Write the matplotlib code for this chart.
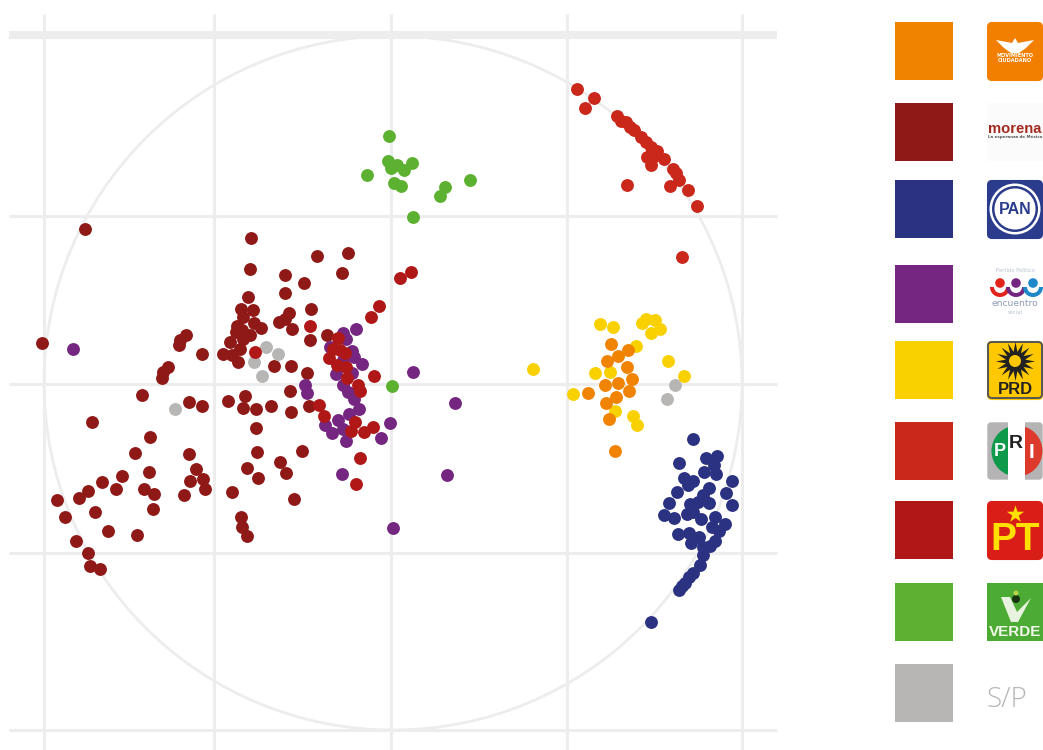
import matplotlib
matplotlib.use("Agg")
import matplotlib.pyplot as plt
from matplotlib.patches import Circle, Ellipse, FancyBboxPatch, Rectangle, Wedge

# valores, radio del circulo = 348
mc_x = [219, 236, 226, 215, 235, 240, 226, 213, 237, 224, 214, 217, 196, 223]
mc_y = [40, 34, 28, 23, 17, 5, 1, -1, -7, -13, -19, -35, -9, -67]

prd_x = [141, 208, 221, 250, 254, 263, 268, 259, 244, 276, 292, 203, 218, 181, 223, 241, 245]
prd_y = [15, 60, 57, 61, 65, 64, 55, 51, 38, 23, 8, 11, 12, -10, -27, -32, -41]

sp_x = [283, 275, -126, -114, -138, -130, -217]
sp_y = [-1, -15, 37, 30, 22, 8, -25]

verde_x = [-3, -4, -1, 5, 12, 20, -25, 2, 9, 53, 48, 78, 21, 0]
verde_y = [248, 223, 216, 219, 214, 221, 209, 201, 198, 197, 188, 204, 167, -2]

pri_x = [185, 202, 193, 225, 229, 234, 238, 242, 249, 254, 259, 265, 255, 261, 259, 272,
         281, 284, 287, 278, 296, 305, 235, 290]
pri_y = [295, 286, 276, 268, 263, 262, 257, 254, 247, 242, 237, 233, 227, 227, 219, 225,
         215, 211, 204, 198, 194, 178, 199, 127]

pt_x = [8, 19, -13, -21, -82, -137, -54, -59, -63, -55, -47, -46, -45, -34, -32, -18,
        -73, -68, -37, -41, -28, -19, -32, -36, -52]
pt_y = [106, 112, 78, 67, 58, 32, 46, 35, 26, 19, 31, 17, 6, -1, -7, 8,
        -21, -32, -38, -47, -48, -43, -74, -100, 34]

pes_x = [-49, -46, -36, -62, -40, -38, -30, -49, -56, -40, -49, -44, -38, -33, -43,
         -87, -85, -54, -67, -60, -49, -46, -11, -2, 21, -319, 63, 55, -50, 1]
pes_y = [51, 45, 55, 37, 33, 27, 20, 24, 10, 11, -1, -8, -15, -25, -30,
         -1, -9, -36, -41, -49, -45, -57, -54, -39, 12, 35, -19, -91, -90, -144]

morena_x = [-144, -151, -139, -149, -138, -155, -131, -156, -142, -150, -162, -152, -169,
            -160, -154, -190, -149, -107, -88, -103, -113, -107, -100, -81, -82, -65,
            -118, -101, -85, -102, -147, -164, -149, -136, -121, -190, -101, -83, -136,
            -135, -90, -112, -307, -141, -75, -44, -142, -107, -50, -350, -206, -212,
            -213, -224, -229, -230, -250, -203, -300, -242, -257, -203, -196, -202, -189,
            -187, -243, -270, -290, -304, -276, -313, -335, -327, -297, -284, -255, -316,
            -304, -302, -292, -248, -238, -239, -208, -160, -151, -150, -145, -145, -134,
            -106, -98]
morena_y = [87, 75, 74, 67, 61, 58, 56, 52, 49, 54, 42, 35, 30,
            29, 22, 30, 45, 91, 101, 71, 62, 65, 55, 75, 44, 49,
            18, 18, 11, -7, -12, -17, -24, -25, -22, -22, -28, -22, -44,
            -68, -67, -78, 155, 146, 128, 131, 115, 109, 111, 41, 49, 44,
            39, 17, 12, 6, -11, -18, -38, -53, -69, -70, -85, -97, -95,
            -105, -88, -92, -98, -107, -105, -114, -116, -133, -128, -147, -151, -157,
            -169, -182, -185, -105, -110, -125, -111, -108, -133, -143, -152, -84, -94,
            -89, -115]

pan_x = [301, 287, 314, 325, 322, 312, 324, 340, 334, 340, 292, 301, 296, 317, 285, 311,
         306, 317, 277, 272, 282, 298, 295, 301, 309, 323, 333, 320, 327, 286, 297, 299,
         307, 323, 318, 311, 311, 308, 301, 297, 293, 290, 287, 259]
pan_y = [-55, -79, -74, -72, -81, -88, -90, -97, -109, -121, -94, -97, -101, -104, -108, -111,
         -118, -119, -119, -131, -134, -120, -130, -128, -135, -133, -140, -143, -147, -150, -149, -159,
         -153, -157, -162, -163, -171, -181, -189, -193, -199, -202, -206, -238]

colores = ["#F08300", "#8F1916", "#2B3282", "#752680", "#F9D100",
           "#C9281A", "#B01818", "#5DB130", "#B7B6B5"]
gris = "#EDEDED"

fig = plt.figure(figsize=(10.43, 7.5), dpi=100)
ax = fig.add_axes([0, 0, 1, 1])
ax.set_xlim(-392, 651)
ax.set_ylim(-366, 384)
ax.axis("off")

# reticula
for x in [-348, -178, -1, 175, 350]:
    ax.plot([x, x], [-366, 370], color=gris, lw=2.2, solid_capstyle="butt", zorder=1)
for y, grosor in [(349, 5.8), (168, 2.2), (0, 2.2), (-169, 2.2), (-346, 2.2)]:
    ax.plot([-383, 385], [y, y], color=gris, lw=grosor, solid_capstyle="butt", zorder=1)
ax.add_patch(Ellipse((1, 1), 698, 694, fill=False, ec=gris, lw=2, zorder=1))

# puntos
series = [
    (morena_x, morena_y, colores[1]),
    (sp_x, sp_y, colores[8]),
    (pan_x, pan_y, colores[2]),
    (pes_x, pes_y, colores[3]),
    (prd_x, prd_y, colores[4]),
    (mc_x, mc_y, colores[0]),
    (pri_x, pri_y, colores[5]),
    (pt_x, pt_y, colores[6]),
    (verde_x, verde_y, colores[7]),
]
for i, (xs, ys, c) in enumerate(series):
    ax.scatter(xs, ys, s=86, color=c, linewidths=0, zorder=3 + i)

# leyenda en coordenadas de la figura
ley = fig.add_axes([0, 0, 1, 1])
ley.set_xlim(0, 1043)
ley.set_ylim(750, 0)
ley.axis("off")
ley.patch.set_alpha(0)

filas = [22, 103, 180, 265, 341, 422, 501, 583, 664]
for c, y in zip(colores, filas):
    ley.add_patch(Rectangle((895, y), 58, 58, color=c, lw=0))


def caja(y, color):
    ley.add_patch(FancyBboxPatch((988, y + 1), 54, 57, boxstyle="round,pad=0,rounding_size=4",
                                 fc=color, ec=color, lw=1.5))


# Movimiento Ciudadano
caja(filas[0], "#F37F00")
ley.fill([996, 1012, 1015, 1018, 1034, 1026, 1019, 1011, 1004], [40, 43, 38, 43, 40, 48, 53, 53, 48],
         color="white", lw=0)
ley.text(1015, 58, "MOVIMIENTO\nCIUDADANO", color="white", fontsize=3.6, fontweight="bold",
         ha="center", va="center", linespacing=0.9)

# morena
ley.add_patch(Rectangle((987, 103), 56, 58, color="#FBFBFB", lw=0))
ley.text(988, 129, "morena", color="#A32A20", fontsize=10.6, fontweight="bold", ha="left", va="center",
         family="Liberation Sans")
ley.text(988, 137, "La esperanza de México", color="#555555", fontsize=2.9, fontweight="bold",
         ha="left", va="center")

# PAN
caja(filas[2], "#2B3C8C")
ley.add_patch(Circle((1015, 209), 25.5, fc="white", ec="none"))
ley.add_patch(Circle((1015, 209), 23, fc="#2B3C8C", ec="none"))
ley.add_patch(Circle((1015, 209), 20.5, fc="white", ec="none"))
ley.text(1015, 209, "PAN", color="#2B3C8C", fontsize=11.5, fontweight="bold", ha="center", va="center",
         family="Liberation Sans")

# Encuentro Social
ley.text(1015, 270, "Partido Político", color="#B9C2D2", fontsize=3.8, ha="center", va="center")
for cx, c in [(1000, "#E2231A"), (1016, "#752680"), (1033, "#1E88C9")]:
    ley.add_patch(Wedge((cx, 287), 10, 0, 180, fc=c, ec="none"))
    ley.add_patch(Wedge((cx, 287), 6, 0, 180, fc="white", ec="none"))
    ley.add_patch(Circle((cx, 283), 4.8, fc=c, ec="none"))
ley.text(1015, 304, "encuentro", color="#8F9BB3", fontsize=6.6, ha="center", va="center")
ley.text(1015, 312, "social", color="#B9C2D2", fontsize=3.8, ha="center", va="center")

# PRD
caja(filas[4], "#FFC800")
ley.add_patch(FancyBboxPatch((988, 342), 54, 56, boxstyle="round,pad=0,rounding_size=4",
                             fc="none", ec="#555555", lw=1.4))
ley.scatter([1015], [361], marker=(16, 1, 0), s=800, color="#222222", linewidths=0)
ley.add_patch(Circle((1015, 361), 6, fc="#FFC800", ec="none"))
ley.text(1015, 390, "PRD", color="#222222", fontsize=12, fontweight="bold", ha="center", va="center",
         family="Liberation Sans")

# PRI
ley.add_patch(FancyBboxPatch((988, 423), 54, 56, boxstyle="round,pad=0,rounding_size=3",
                             fc="#B5B3B3", ec="#B5B3B3", lw=1))
disco = Circle((1017, 451), 25.5, transform=ley.transData)
verde_pri = Rectangle((988, 423), 20, 56, fc="#0E9A4A", ec="none")
rojo_pri = Rectangle((1025, 423), 18, 56, fc="#DD3A2B", ec="none")
ley.add_patch(verde_pri)
ley.add_patch(rojo_pri)
verde_pri.set_clip_path(disco)
rojo_pri.set_clip_path(disco)
ley.add_patch(Rectangle((1008, 422), 17, 58, fc="white", ec="none"))
ley.text(1000, 452, "P", color="white", fontsize=13, fontweight="bold", ha="center", va="center",
         family="Liberation Sans")
ley.text(1016, 444, "R", color="#222222", fontsize=14, fontweight="bold", ha="center", va="center",
         family="Liberation Sans")
ley.text(1032, 452, "I", color="white", fontsize=15, fontweight="bold", ha="center", va="center",
         family="Liberation Sans")

# PT
caja(filas[6], "#D81E16")
ley.scatter([1015], [514], marker="*", s=170, color="#FFE000", linewidths=0)
ley.text(1015, 540, "PT", color="#FFE000", fontsize=28, fontweight="bold", ha="center", va="center",
         family="Liberation Sans")

# Verde
ley.add_patch(Rectangle((987, 583), 56, 58, color="#4CAB35", lw=0))
ley.fill([1001, 1010, 1017, 1031, 1018, 1011], [597, 597, 612, 598, 622, 622], color="#E8F3DF", lw=0)
ley.add_patch(Circle((1016, 599), 4, fc="#17330F", ec="none"))
ley.add_patch(Circle((1016, 593), 2.5, fc="#B8D44A", ec="none"))
ley.text(1015, 632, "VERDE", color="#F2F8EA", fontsize=11, fontweight="bold", ha="center", va="center",
         family="Liberation Sans")

# Sin partido
ley.text(987, 700, "S/P", color="#B7B6B5", fontsize=20, ha="left", va="center", family="Open Sans",
         fontweight="light")

fig.savefig("out.png", dpi=100)
